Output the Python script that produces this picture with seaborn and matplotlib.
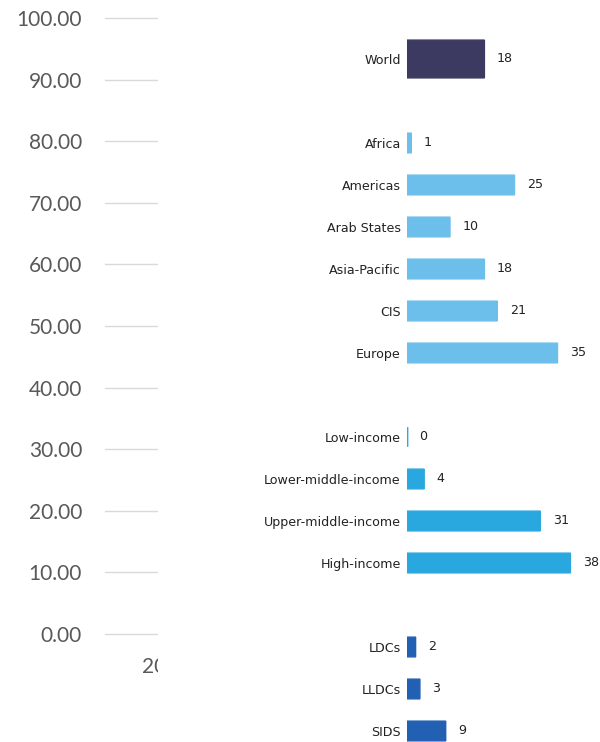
import matplotlib
matplotlib.use("Agg")
import matplotlib.pyplot as plt
import seaborn as sns
import pandas as pd
from matplotlib.patches import Rectangle

# Background value axis and its single category
axis_ticks = [0, 10, 20, 30, 40, 50, 60, 70, 80, 90, 100]
axis_category = ["2020"]

# Bar data, by group
world = ["World"]
world_values = [18]
regions = ["Africa", "Americas", "Arab States", "Asia-Pacific", "CIS", "Europe"]
region_values = [1, 25, 10, 18, 21, 35]
income = ["Low-income", "Lower-middle-income", "Upper-middle-income", "High-income"]
income_values = [0, 4, 31, 38]
special = ["LDCs", "LLDCs", "SIDS"]
special_values = [2, 3, 9]

colors = {
    "world": "#3c3a60",
    "region": "#6cbfea",
    "income": "#29a8e0",
    "special": "#2260b4",
}

sns.set_style("white")

df = pd.DataFrame({
    "label": world + regions + income + special,
    "value": world_values + region_values + income_values + special_values,
    "group": (["world"] * len(world) + ["region"] * len(regions)
              + ["income"] * len(income) + ["special"] * len(special)),
})
order = world + [" "] + regions + ["  "] + income + ["   "] + special

W, H = 600, 742
fig = plt.figure(figsize=(W / 100, H / 100), dpi=100)
fig.patch.set_facecolor("white")

# ---- background value axis ----
ax1 = fig.add_axes([105 / W, (H - 634) / H, 122 / W, 634 / H])
ax1.set_zorder(0)
ax1.set_ylim(0, 100 + 18 / 6.17)
ax1.set_xlim(-0.5, 0.5)
ax1.set_yticks(axis_ticks)
ax1.set_yticklabels([f"{t:.2f}" for t in axis_ticks])
ax1.set_xticks([0])
ax1.set_xticklabels(axis_category)
ax1.grid(axis="y", color="#d9d9d9", linewidth=1.0)
ax1.grid(axis="x", visible=False)
for gl in ax1.get_ygridlines():
    gl.set_clip_on(False)
for s in ax1.spines.values():
    s.set_visible(False)
ax1.tick_params(axis="both", length=0, pad=16.5, labelsize=15, labelcolor="#595959")
for t in ax1.get_yticklabels() + ax1.get_xticklabels():
    t.set_fontfamily("Lato")

# White panel that holds the bar chart
fig.patches.append(Rectangle((158 / W, 0), 1 - 158 / W, 1, transform=fig.transFigure,
                             facecolor="white", edgecolor="none", zorder=1))

# ---- bar chart ----
ax2 = fig.add_axes([407 / W, 0, 1 - 407 / W, 1])
ax2.set_zorder(2)
ax2.patch.set_alpha(0)

sns.barplot(data=df[df.group == "world"], x="value", y="label", hue="group",
            order=order, palette=colors, orient="h", width=0.9,
            saturation=1, legend=False, ax=ax2)
sns.barplot(data=df[df.group != "world"], x="value", y="label", hue="group",
            order=order, palette=colors, orient="h", width=0.47,
            saturation=1, legend=False, ax=ax2)

# Thin outline in the bar colour, so even zero-length bars stay visible
for p in ax2.patches:
    p.set_edgecolor(p.get_facecolor())
    p.set_snap(False)
    p.set_linewidth(1.0 if p.get_width() > 0 else 2.0)

for c in ax2.containers:
    ax2.bar_label(c, fmt="{:.0f}", padding=9, fontsize=9.1,
                  color="#222222", family="DejaVu Sans")

ax2.set_xlim(0, (W - 407) / 4.3)
ax2.set_ylim(16 + 11 / 42, -59 / 42)
ax2.set_xlabel("")
ax2.set_ylabel("")
ax2.set_xticks([])
for s in ax2.spines.values():
    s.set_visible(False)
ax2.tick_params(axis="y", length=0, pad=4.5, labelsize=9.1, labelcolor="#222222")
for t in ax2.get_yticklabels():
    t.set_fontfamily("DejaVu Sans")

fig.savefig("out.png", dpi=100, facecolor="white")
